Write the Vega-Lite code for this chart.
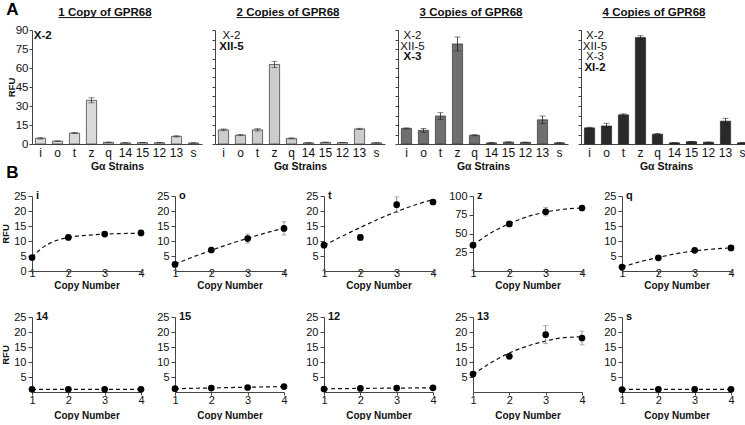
{
"$schema":"https://vega.github.io/schema/vega-lite/v6.json",
"background":"white",
"padding":{"left":0,"top":0,"right":0,"bottom":0},
"config":{"font":"Liberation Sans","view":{"stroke":null},
 "axis":{"domainColor":"#444","tickColor":"#444","labelColor":"#111","titleColor":"#111","titleFontWeight":"bold","titleFontSize":10,"labelFontSize":11,"grid":false,"labelFlush":false,"labelFont":"Liberation Sans","titleFont":"Liberation Sans"},
 "text":{"font":"Liberation Sans"}},
"datasets":{
"rfu":[
{"strain":"i","copies":1,"value":4.5,"err":0.6},{"strain":"i","copies":2,"value":11.2,"err":0.7},{"strain":"i","copies":3,"value":12.3,"err":0.4},{"strain":"i","copies":4,"value":12.7,"err":0.5},
{"strain":"o","copies":1,"value":2.2,"err":0.3},{"strain":"o","copies":2,"value":7.0,"err":0.4},{"strain":"o","copies":3,"value":10.8,"err":1.5},{"strain":"o","copies":4,"value":14.2,"err":2.2},
{"strain":"t","copies":1,"value":8.6,"err":0.4},{"strain":"t","copies":2,"value":11.2,"err":0.9},{"strain":"t","copies":3,"value":22.1,"err":2.6},{"strain":"t","copies":4,"value":23.0,"err":0.8},
{"strain":"z","copies":1,"value":34.5,"err":2.0},{"strain":"z","copies":2,"value":62.8,"err":2.5},{"strain":"z","copies":3,"value":79.0,"err":5.5},{"strain":"z","copies":4,"value":84.0,"err":1.5},
{"strain":"q","copies":1,"value":1.3,"err":0.2},{"strain":"q","copies":2,"value":4.4,"err":0.4},{"strain":"q","copies":3,"value":6.9,"err":0.4},{"strain":"q","copies":4,"value":7.7,"err":0.6},
{"strain":"14","copies":1,"value":0.9,"err":0.1},{"strain":"14","copies":2,"value":0.9,"err":0.1},{"strain":"14","copies":3,"value":0.9,"err":0.1},{"strain":"14","copies":4,"value":0.9,"err":0.1},
{"strain":"15","copies":1,"value":1.1,"err":0.1},{"strain":"15","copies":2,"value":1.3,"err":0.1},{"strain":"15","copies":3,"value":1.5,"err":0.1},{"strain":"15","copies":4,"value":1.8,"err":0.2},
{"strain":"12","copies":1,"value":1.0,"err":0.1},{"strain":"12","copies":2,"value":1.2,"err":0.1},{"strain":"12","copies":3,"value":1.3,"err":0.1},{"strain":"12","copies":4,"value":1.4,"err":0.1},
{"strain":"13","copies":1,"value":6.0,"err":0.5},{"strain":"13","copies":2,"value":11.9,"err":0.5},{"strain":"13","copies":3,"value":19.1,"err":3.0},{"strain":"13","copies":4,"value":18.0,"err":2.3},
{"strain":"s","copies":1,"value":0.8,"err":0.1},{"strain":"s","copies":2,"value":0.9,"err":0.1},{"strain":"s","copies":3,"value":0.9,"err":0.1},{"strain":"s","copies":4,"value":0.9,"err":0.1}
],
"fit":[
{"strain":"i","copies":1,"value":4.5},{"strain":"i","copies":1.25,"value":7.4},{"strain":"i","copies":1.5,"value":9.3},{"strain":"i","copies":2,"value":11.2},{"strain":"i","copies":2.5,"value":11.9},{"strain":"i","copies":3,"value":12.3},{"strain":"i","copies":3.5,"value":12.5},{"strain":"i","copies":4,"value":12.6},
{"strain":"o","copies":1,"value":2.3},{"strain":"o","copies":1.5,"value":4.7},{"strain":"o","copies":2,"value":6.9},{"strain":"o","copies":2.5,"value":9.0},{"strain":"o","copies":3,"value":10.9},{"strain":"o","copies":3.5,"value":12.7},{"strain":"o","copies":4,"value":14.3},
{"strain":"t","copies":1,"value":8.5},{"strain":"t","copies":1.5,"value":11.6},{"strain":"t","copies":2,"value":14.5},{"strain":"t","copies":2.5,"value":17.3},{"strain":"t","copies":3,"value":19.8},{"strain":"t","copies":3.5,"value":22.0},{"strain":"t","copies":4,"value":23.8},
{"strain":"z","copies":1,"value":34.5},{"strain":"z","copies":1.5,"value":51},{"strain":"z","copies":2,"value":63},{"strain":"z","copies":2.5,"value":72.5},{"strain":"z","copies":3,"value":78.5},{"strain":"z","copies":3.5,"value":82.3},{"strain":"z","copies":4,"value":84},
{"strain":"q","copies":1,"value":1.3},{"strain":"q","copies":1.5,"value":3.1},{"strain":"q","copies":2,"value":4.5},{"strain":"q","copies":2.5,"value":5.8},{"strain":"q","copies":3,"value":6.7},{"strain":"q","copies":3.5,"value":7.3},{"strain":"q","copies":4,"value":7.7},
{"strain":"14","copies":1,"value":0.9},{"strain":"14","copies":2,"value":0.9},{"strain":"14","copies":3,"value":0.9},{"strain":"14","copies":4,"value":0.9},
{"strain":"15","copies":1,"value":1.1},{"strain":"15","copies":2,"value":1.35},{"strain":"15","copies":3,"value":1.6},{"strain":"15","copies":4,"value":1.8},
{"strain":"12","copies":1,"value":1.05},{"strain":"12","copies":2,"value":1.2},{"strain":"12","copies":3,"value":1.3},{"strain":"12","copies":4,"value":1.4},
{"strain":"13","copies":1,"value":5.8},{"strain":"13","copies":1.5,"value":9.8},{"strain":"13","copies":2,"value":13.0},{"strain":"13","copies":2.5,"value":15.3},{"strain":"13","copies":3,"value":17.0},{"strain":"13","copies":3.5,"value":18.1},{"strain":"13","copies":4,"value":18.4},
{"strain":"s","copies":1,"value":0.9},{"strain":"s","copies":2,"value":0.9},{"strain":"s","copies":3,"value":0.9},{"strain":"s","copies":4,"value":0.9}
],
"tags":[
{"copies":1,"line":1,"site":"X-2","added":true},
{"copies":2,"line":1,"site":"X-2","added":false},{"copies":2,"line":2,"site":"XII-5","added":true},
{"copies":3,"line":1,"site":"X-2","added":false},{"copies":3,"line":2,"site":"XII-5","added":false},{"copies":3,"line":3,"site":"X-3","added":true},
{"copies":4,"line":1,"site":"X-2","added":false},{"copies":4,"line":2,"site":"XII-5","added":false},{"copies":4,"line":3,"site":"X-3","added":false},{"copies":4,"line":4,"site":"XI-2","added":true}
]
},
"spacing":9,"columns":1,"align":"none",
"concat":[
{"hconcat":[
 {"width":170,"height":114,"resolve":{"scale":{"y":"independent"}},
  "layer":[
   {"data":{"name":"rfu"},"transform":[{"filter":"datum.copies == 1"}],
    "encoding":{
     "x":{"field":"strain","type":"nominal","bandPosition":0.5,"scale":{"domain":["i","o","t","z","q","14","15","12","13","s"],"paddingInner":0.4,"paddingOuter":0.2},"axis":{"title":"Gα Strains","labelAngle":0,"ticks":false,"labelPadding":3,"labelFontSize":12,"titlePadding":3,"titleFontSize":10.5}},
     "y":{"field":"value","type":"quantitative","scale":{"domain":[0,90],"nice":false},"axis":{"title":"RFU","values":[0,15,30,45,60,75,90],"tickSize":3,"labelPadding":1,"titlePadding":-1,"titleFontSize":9.5,"labelFontSize":11.5}}},
    "layer":[
     {"mark":{"type":"bar","fill":"#d9d9d9","stroke":"#333","strokeWidth":0.7}},
     {"mark":{"type":"errorbar","ticks":{"size":6},"color":"#333","thickness":0.8},"encoding":{"yError":{"field":"err"}}},
     {"transform":[{"filter":"datum.strain == 'i'"}],"mark":{"type":"text","text":"A","fontSize":17,"fontWeight":"bold","dx":-28,"baseline":"middle","color":"#000"},"encoding":{"y":{"datum":106}}},
     {"transform":[{"filter":"datum.strain == 'i'"}],"mark":{"type":"text","text":"B","fontSize":17,"fontWeight":"bold","dx":-28,"baseline":"middle","color":"#000"},"encoding":{"y":{"datum":-22.5}}},
     {"transform":[{"filter":"datum.strain == 'q'"}],"mark":{"type":"text","text":"1 Copy of GPR68","fontSize":11.5,"fontWeight":"bold","color":"#111","baseline":"alphabetic","align":"center","dx":-3.5},"encoding":{"y":{"datum":101.2}}},
     {"transform":[{"filter":"datum.strain == 'q'"}],"mark":{"type":"rule","color":"#111","strokeWidth":1,"xOffset":-50.1,"x2Offset":43.1},"encoding":{"x2":{"field":"strain","bandPosition":0.5},"y":{"datum":99.8}}}
    ]},
   {"data":{"name":"tags"},"transform":[{"filter":"datum.copies == 1"}],
    "encoding":{"x":{"datum":"i","type":"nominal"},"y":{"field":"line","type":"quantitative","scale":{"domain":[0.44,11.12],"reverse":true,"nice":false,"zero":false},"axis":null},"text":{"field":"site"}},
    "layer":[
     {"transform":[{"filter":"!datum.added"}],"mark":{"type":"text","dx":2.3,"fontSize":11.5,"color":"#111","baseline":"middle"}},
     {"transform":[{"filter":"datum.added"}],"mark":{"type":"text","dx":2.3,"fontSize":11.5,"fontWeight":"bold","color":"#111","baseline":"middle"}}
    ]}
  ]},
 {"width":170,"height":114,"resolve":{"scale":{"y":"independent"}},
  "layer":[
   {"data":{"name":"rfu"},"transform":[{"filter":"datum.copies == 2"}],
    "encoding":{
     "x":{"field":"strain","type":"nominal","bandPosition":0.5,"scale":{"domain":["i","o","t","z","q","14","15","12","13","s"],"paddingInner":0.4,"paddingOuter":0.2},"axis":{"title":"Gα Strains","labelAngle":0,"ticks":false,"labelPadding":3,"labelFontSize":12,"titlePadding":3,"titleFontSize":10.5}},
     "y":{"field":"value","type":"quantitative","scale":{"domain":[0,90],"nice":false},"axis":{"title":null,"values":[0,7.5,15,22.5,30,37.5,45,52.5,60,67.5,75,82.5,90],"labels":false,"tickSize":3}}},
    "layer":[
     {"mark":{"type":"bar","fill":"#cccccc","stroke":"#333","strokeWidth":0.7}},
     {"mark":{"type":"errorbar","ticks":{"size":6},"color":"#333","thickness":0.8},"encoding":{"yError":{"field":"err"}}},
     {"transform":[{"filter":"datum.strain == 'q'"}],"mark":{"type":"text","text":"2 Copies of GPR68","fontSize":11.5,"fontWeight":"bold","color":"#111","baseline":"alphabetic","align":"center","dx":-3.5},"encoding":{"y":{"datum":101.2}}},
     {"transform":[{"filter":"datum.strain == 'q'"}],"mark":{"type":"rule","color":"#111","strokeWidth":1,"xOffset":-55,"x2Offset":48},"encoding":{"x2":{"field":"strain","bandPosition":0.5},"y":{"datum":99.8}}}
    ]},
   {"data":{"name":"tags"},"transform":[{"filter":"datum.copies == 2"}],
    "encoding":{"x":{"datum":"i","type":"nominal"},"y":{"field":"line","type":"quantitative","scale":{"domain":[0.44,11.12],"reverse":true,"nice":false,"zero":false},"axis":null},"text":{"field":"site"}},
    "layer":[
     {"transform":[{"filter":"!datum.added"}],"mark":{"type":"text","dx":8,"fontSize":11.5,"color":"#111","baseline":"middle"}},
     {"transform":[{"filter":"datum.added"}],"mark":{"type":"text","dx":8,"fontSize":11.5,"fontWeight":"bold","color":"#111","baseline":"middle"}}
    ]}
  ]},
 {"width":170,"height":114,"resolve":{"scale":{"y":"independent"}},
  "layer":[
   {"data":{"name":"rfu"},"transform":[{"filter":"datum.copies == 3"}],
    "encoding":{
     "x":{"field":"strain","type":"nominal","bandPosition":0.5,"scale":{"domain":["i","o","t","z","q","14","15","12","13","s"],"paddingInner":0.4,"paddingOuter":0.2},"axis":{"title":"Gα Strains","labelAngle":0,"ticks":false,"labelPadding":3,"labelFontSize":12,"titlePadding":3,"titleFontSize":10.5}},
     "y":{"field":"value","type":"quantitative","scale":{"domain":[0,90],"nice":false},"axis":{"title":null,"values":[0,7.5,15,22.5,30,37.5,45,52.5,60,67.5,75,82.5,90],"labels":false,"tickSize":3}}},
    "layer":[
     {"mark":{"type":"bar","fill":"#6f6f6f","stroke":"#333","strokeWidth":0.7}},
     {"mark":{"type":"errorbar","ticks":{"size":6},"color":"#222","thickness":0.8},"encoding":{"yError":{"field":"err"}}},
     {"transform":[{"filter":"datum.strain == 'q'"}],"mark":{"type":"text","text":"3 Copies of GPR68","fontSize":11.5,"fontWeight":"bold","color":"#111","baseline":"alphabetic","align":"center","dx":-3.5},"encoding":{"y":{"datum":101.2}}},
     {"transform":[{"filter":"datum.strain == 'q'"}],"mark":{"type":"rule","color":"#111","strokeWidth":1,"xOffset":-55,"x2Offset":48},"encoding":{"x2":{"field":"strain","bandPosition":0.5},"y":{"datum":99.8}}}
    ]},
   {"data":{"name":"tags"},"transform":[{"filter":"datum.copies == 3"}],
    "encoding":{"x":{"datum":"i","type":"nominal"},"y":{"field":"line","type":"quantitative","scale":{"domain":[0.44,11.12],"reverse":true,"nice":false,"zero":false},"axis":null},"text":{"field":"site"}},
    "layer":[
     {"transform":[{"filter":"!datum.added"}],"mark":{"type":"text","dx":6,"fontSize":11.5,"color":"#111","baseline":"middle"}},
     {"transform":[{"filter":"datum.added"}],"mark":{"type":"text","dx":6,"fontSize":11.5,"fontWeight":"bold","color":"#111","baseline":"middle"}}
    ]}
  ]},
 {"width":170,"height":114,"resolve":{"scale":{"y":"independent"}},
  "layer":[
   {"data":{"name":"rfu"},"transform":[{"filter":"datum.copies == 4"}],
    "encoding":{
     "x":{"field":"strain","type":"nominal","bandPosition":0.5,"scale":{"domain":["i","o","t","z","q","14","15","12","13","s"],"paddingInner":0.4,"paddingOuter":0.2},"axis":{"title":"Gα Strains","labelAngle":0,"ticks":false,"labelPadding":3,"labelFontSize":12,"titlePadding":3,"titleFontSize":10.5}},
     "y":{"field":"value","type":"quantitative","scale":{"domain":[0,90],"nice":false},"axis":{"title":null,"values":[0,7.5,15,22.5,30,37.5,45,52.5,60,67.5,75,82.5,90],"labels":false,"tickSize":3}}},
    "layer":[
     {"mark":{"type":"bar","fill":"#2a2a2a","stroke":"#222","strokeWidth":0.7}},
     {"mark":{"type":"errorbar","ticks":{"size":6},"color":"#222","thickness":0.8},"encoding":{"yError":{"field":"err"}}},
     {"transform":[{"filter":"datum.strain == 'q'"}],"mark":{"type":"text","text":"4 Copies of GPR68","fontSize":11.5,"fontWeight":"bold","color":"#111","baseline":"alphabetic","align":"center","dx":-3.5},"encoding":{"y":{"datum":101.2}}},
     {"transform":[{"filter":"datum.strain == 'q'"}],"mark":{"type":"rule","color":"#111","strokeWidth":1,"xOffset":-55,"x2Offset":48},"encoding":{"x2":{"field":"strain","bandPosition":0.5},"y":{"datum":99.8}}}
    ]},
   {"data":{"name":"tags"},"transform":[{"filter":"datum.copies == 4"}],
    "encoding":{"x":{"datum":"i","type":"nominal"},"y":{"field":"line","type":"quantitative","scale":{"domain":[0.44,11.12],"reverse":true,"nice":false,"zero":false},"axis":null},"text":{"field":"site"}},
    "layer":[
     {"transform":[{"filter":"!datum.added"}],"mark":{"type":"text","dx":5.5,"fontSize":11.5,"color":"#111","baseline":"middle"}},
     {"transform":[{"filter":"datum.added"}],"mark":{"type":"text","dx":5.5,"fontSize":11.5,"fontWeight":"bold","color":"#111","baseline":"middle"}}
    ]}
  ]}
],"spacing":9},
{"vconcat":[
 {"hconcat":[
  {"hconcat":[
   {"width":109,"height":75,
    "encoding":{"x":{"field":"copies","type":"quantitative","scale":{"domain":[1,4],"nice":false,"zero":false},"axis":{"title":"Copy Number","values":[1,2,3,4],"format":"d","tickSize":2,"labelPadding":-6,"titlePadding":2}},
     "y":{"field":"value","type":"quantitative","scale":{"domain":[0,25],"nice":false,"zero":false},"axis":{"title":"RFU","values":[0,5,10,15,20,25],"tickSize":4,"labelPadding":2,"titlePadding":3,"titleFontSize":9.5}}},
    "layer":[
     {"data":{"name":"fit"},"transform":[{"filter":"datum.strain == 'i'"}],"mark":{"type":"line","strokeDash":[4,3],"color":"#111","strokeWidth":1.2,"interpolate":"monotone"}},
     {"data":{"name":"rfu"},"transform":[{"filter":"datum.strain == 'i'"}],"mark":{"type":"errorbar","ticks":{"size":5},"color":"#777","thickness":0.8},"encoding":{"yError":{"field":"err"}}},
     {"data":{"name":"rfu"},"transform":[{"filter":"datum.strain == 'i'"}],"mark":{"type":"circle","color":"#000","size":45,"opacity":1}},
     {"data":{"name":"rfu"},"transform":[{"filter":"datum.strain == 'i' && datum.copies == 1"}],"mark":{"type":"text","align":"left","baseline":"alphabetic","dx":4,"dy":3,"fontWeight":"bold","fontSize":11,"color":"#111"},"encoding":{"x":{"datum":1},"y":{"datum":25},"text":{"field":"strain"}}}
    ]},
   {"width":109,"height":75,
    "encoding":{"x":{"field":"copies","type":"quantitative","scale":{"domain":[1,4],"nice":false,"zero":false},"axis":{"title":"Copy Number","values":[1,2,3,4],"format":"d","tickSize":2,"labelPadding":-6,"titlePadding":2}},
     "y":{"field":"value","type":"quantitative","scale":{"domain":[0,25],"nice":false,"zero":false},"axis":{"title":null,"values":[5,10,15,20,25],"tickSize":4,"labelPadding":2}}},
    "layer":[
     {"data":{"name":"fit"},"transform":[{"filter":"datum.strain == 'o'"}],"mark":{"type":"line","strokeDash":[4,3],"color":"#111","strokeWidth":1.2,"interpolate":"monotone"}},
     {"data":{"name":"rfu"},"transform":[{"filter":"datum.strain == 'o'"}],"mark":{"type":"errorbar","ticks":{"size":5},"color":"#777","thickness":0.8},"encoding":{"yError":{"field":"err"}}},
     {"data":{"name":"rfu"},"transform":[{"filter":"datum.strain == 'o'"}],"mark":{"type":"circle","color":"#000","size":45,"opacity":1}},
     {"data":{"name":"rfu"},"transform":[{"filter":"datum.strain == 'o' && datum.copies == 1"}],"mark":{"type":"text","align":"left","baseline":"alphabetic","dx":4,"dy":3,"fontWeight":"bold","fontSize":11,"color":"#111"},"encoding":{"x":{"datum":1},"y":{"datum":25},"text":{"field":"strain"}}}
    ]}
  ],"spacing":11},
  {"hconcat":[
  {"width":109,"height":75,
   "encoding":{"x":{"field":"copies","type":"quantitative","scale":{"domain":[1,4],"nice":false,"zero":false},"axis":{"title":"Copy Number","values":[1,2,3,4],"format":"d","tickSize":2,"labelPadding":-6,"titlePadding":2}},
    "y":{"field":"value","type":"quantitative","scale":{"domain":[0,25],"nice":false,"zero":false},"axis":{"title":null,"values":[5,10,15,20,25],"tickSize":4,"labelPadding":2}}},
   "layer":[
    {"data":{"name":"fit"},"transform":[{"filter":"datum.strain == 't'"}],"mark":{"type":"line","strokeDash":[4,3],"color":"#111","strokeWidth":1.2,"interpolate":"monotone"}},
    {"data":{"name":"rfu"},"transform":[{"filter":"datum.strain == 't'"}],"mark":{"type":"errorbar","ticks":{"size":5},"color":"#777","thickness":0.8},"encoding":{"yError":{"field":"err"}}},
    {"data":{"name":"rfu"},"transform":[{"filter":"datum.strain == 't'"}],"mark":{"type":"circle","color":"#000","size":45,"opacity":1}},
    {"data":{"name":"rfu"},"transform":[{"filter":"datum.strain == 't' && datum.copies == 1"}],"mark":{"type":"text","align":"left","baseline":"alphabetic","dx":4,"dy":3,"fontWeight":"bold","fontSize":11,"color":"#111"},"encoding":{"x":{"datum":1},"y":{"datum":25},"text":{"field":"strain"}}}
   ]},
  {"width":109,"height":75,
   "encoding":{"x":{"field":"copies","type":"quantitative","scale":{"domain":[1,4],"nice":false,"zero":false},"axis":{"title":"Copy Number","values":[1,2,3,4],"format":"d","tickSize":2,"labelPadding":-6,"titlePadding":2}},
    "y":{"field":"value","type":"quantitative","scale":{"domain":[0,100],"nice":false,"zero":false},"axis":{"title":null,"values":[25,50,75,100],"tickSize":4,"labelPadding":2}}},
   "layer":[
    {"data":{"name":"fit"},"transform":[{"filter":"datum.strain == 'z'"}],"mark":{"type":"line","strokeDash":[4,3],"color":"#111","strokeWidth":1.2,"interpolate":"monotone"}},
    {"data":{"name":"rfu"},"transform":[{"filter":"datum.strain == 'z'"}],"mark":{"type":"errorbar","ticks":{"size":5},"color":"#777","thickness":0.8},"encoding":{"yError":{"field":"err"}}},
    {"data":{"name":"rfu"},"transform":[{"filter":"datum.strain == 'z'"}],"mark":{"type":"circle","color":"#000","size":45,"opacity":1}},
    {"data":{"name":"rfu"},"transform":[{"filter":"datum.strain == 'z' && datum.copies == 1"}],"mark":{"type":"text","align":"left","baseline":"alphabetic","dx":4,"dy":3,"fontWeight":"bold","fontSize":11,"color":"#111"},"encoding":{"x":{"datum":1},"y":{"datum":100},"text":{"field":"strain"}}}
   ]}
  ],"spacing":11},
  {"width":109,"height":75,
   "encoding":{"x":{"field":"copies","type":"quantitative","scale":{"domain":[1,4],"nice":false,"zero":false},"axis":{"title":"Copy Number","values":[1,2,3,4],"format":"d","tickSize":2,"labelPadding":-6,"titlePadding":2}},
    "y":{"field":"value","type":"quantitative","scale":{"domain":[0,25],"nice":false,"zero":false},"axis":{"title":null,"values":[5,10,15,20,25],"tickSize":4,"labelPadding":2}}},
   "layer":[
    {"data":{"name":"fit"},"transform":[{"filter":"datum.strain == 'q'"}],"mark":{"type":"line","strokeDash":[4,3],"color":"#111","strokeWidth":1.2,"interpolate":"monotone"}},
    {"data":{"name":"rfu"},"transform":[{"filter":"datum.strain == 'q'"}],"mark":{"type":"errorbar","ticks":{"size":5},"color":"#777","thickness":0.8},"encoding":{"yError":{"field":"err"}}},
    {"data":{"name":"rfu"},"transform":[{"filter":"datum.strain == 'q'"}],"mark":{"type":"circle","color":"#000","size":45,"opacity":1}},
    {"data":{"name":"rfu"},"transform":[{"filter":"datum.strain == 'q' && datum.copies == 1"}],"mark":{"type":"text","align":"left","baseline":"alphabetic","dx":4,"dy":3,"fontWeight":"bold","fontSize":11,"color":"#111"},"encoding":{"x":{"datum":1},"y":{"datum":25},"text":{"field":"strain"}}}
   ]}
 ],"spacing":17},
 {"hconcat":[
  {"hconcat":[
   {"width":109,"height":75,
    "encoding":{"x":{"field":"copies","type":"quantitative","scale":{"domain":[1,4],"nice":false,"zero":false},"axis":{"title":"Copy Number","values":[1,2,3,4],"format":"d","tickSize":3,"labelPadding":-1,"titlePadding":5}},
     "y":{"field":"value","type":"quantitative","scale":{"domain":[0,25],"nice":false,"zero":false},"axis":{"title":"RFU","values":[5,10,15,20,25],"tickSize":4,"labelPadding":2,"titlePadding":3,"titleFontSize":9.5}}},
    "layer":[
     {"data":{"name":"fit"},"transform":[{"filter":"datum.strain == '14'"}],"mark":{"type":"line","strokeDash":[4,3],"color":"#111","strokeWidth":1.2,"interpolate":"monotone"}},
     {"data":{"name":"rfu"},"transform":[{"filter":"datum.strain == '14'"}],"mark":{"type":"errorbar","ticks":{"size":5},"color":"#777","thickness":0.8},"encoding":{"yError":{"field":"err"}}},
     {"data":{"name":"rfu"},"transform":[{"filter":"datum.strain == '14'"}],"mark":{"type":"circle","color":"#000","size":45,"opacity":1}},
     {"data":{"name":"rfu"},"transform":[{"filter":"datum.strain == '14' && datum.copies == 1"}],"mark":{"type":"text","align":"left","baseline":"alphabetic","dx":4,"dy":3,"fontWeight":"bold","fontSize":11,"color":"#111"},"encoding":{"x":{"datum":1},"y":{"datum":25},"text":{"field":"strain"}}}
    ]},
   {"width":109,"height":75,
    "encoding":{"x":{"field":"copies","type":"quantitative","scale":{"domain":[1,4],"nice":false,"zero":false},"axis":{"title":"Copy Number","values":[1,2,3,4],"format":"d","tickSize":3,"labelPadding":-1,"titlePadding":5}},
     "y":{"field":"value","type":"quantitative","scale":{"domain":[0,25],"nice":false,"zero":false},"axis":{"title":null,"values":[5,10,15,20,25],"tickSize":4,"labelPadding":2}}},
    "layer":[
     {"data":{"name":"fit"},"transform":[{"filter":"datum.strain == '15'"}],"mark":{"type":"line","strokeDash":[4,3],"color":"#111","strokeWidth":1.2,"interpolate":"monotone"}},
     {"data":{"name":"rfu"},"transform":[{"filter":"datum.strain == '15'"}],"mark":{"type":"errorbar","ticks":{"size":5},"color":"#777","thickness":0.8},"encoding":{"yError":{"field":"err"}}},
     {"data":{"name":"rfu"},"transform":[{"filter":"datum.strain == '15'"}],"mark":{"type":"circle","color":"#000","size":45,"opacity":1}},
     {"data":{"name":"rfu"},"transform":[{"filter":"datum.strain == '15' && datum.copies == 1"}],"mark":{"type":"text","align":"left","baseline":"alphabetic","dx":4,"dy":3,"fontWeight":"bold","fontSize":11,"color":"#111"},"encoding":{"x":{"datum":1},"y":{"datum":25},"text":{"field":"strain"}}}
    ]}
  ],"spacing":11},
  {"width":109,"height":75,
   "encoding":{"x":{"field":"copies","type":"quantitative","scale":{"domain":[1,4],"nice":false,"zero":false},"axis":{"title":"Copy Number","values":[1,2,3,4],"format":"d","tickSize":3,"labelPadding":-1,"titlePadding":5}},
    "y":{"field":"value","type":"quantitative","scale":{"domain":[0,25],"nice":false,"zero":false},"axis":{"title":null,"values":[5,10,15,20,25],"tickSize":4,"labelPadding":2}}},
   "layer":[
    {"data":{"name":"fit"},"transform":[{"filter":"datum.strain == '12'"}],"mark":{"type":"line","strokeDash":[4,3],"color":"#111","strokeWidth":1.2,"interpolate":"monotone"}},
    {"data":{"name":"rfu"},"transform":[{"filter":"datum.strain == '12'"}],"mark":{"type":"errorbar","ticks":{"size":5},"color":"#777","thickness":0.8},"encoding":{"yError":{"field":"err"}}},
    {"data":{"name":"rfu"},"transform":[{"filter":"datum.strain == '12'"}],"mark":{"type":"circle","color":"#000","size":45,"opacity":1}},
    {"data":{"name":"rfu"},"transform":[{"filter":"datum.strain == '12' && datum.copies == 1"}],"mark":{"type":"text","align":"left","baseline":"alphabetic","dx":4,"dy":3,"fontWeight":"bold","fontSize":11,"color":"#111"},"encoding":{"x":{"datum":1},"y":{"datum":25},"text":{"field":"strain"}}}
   ]},
  {"width":109,"height":75,
   "encoding":{"x":{"field":"copies","type":"quantitative","scale":{"domain":[1,4],"nice":false,"zero":false},"axis":{"title":"Copy Number","values":[1,2,3,4],"format":"d","tickSize":3,"labelPadding":-1,"titlePadding":5}},
    "y":{"field":"value","type":"quantitative","scale":{"domain":[0,25],"nice":false,"zero":false},"axis":{"title":null,"values":[5,10,15,20,25],"tickSize":4,"labelPadding":2}}},
   "layer":[
    {"data":{"name":"fit"},"transform":[{"filter":"datum.strain == '13'"}],"mark":{"type":"line","strokeDash":[4,3],"color":"#111","strokeWidth":1.2,"interpolate":"monotone"}},
    {"data":{"name":"rfu"},"transform":[{"filter":"datum.strain == '13'"}],"mark":{"type":"errorbar","ticks":{"size":5},"color":"#777","thickness":0.8},"encoding":{"yError":{"field":"err"}}},
    {"data":{"name":"rfu"},"transform":[{"filter":"datum.strain == '13'"}],"mark":{"type":"circle","color":"#000","size":45,"opacity":1}},
    {"data":{"name":"rfu"},"transform":[{"filter":"datum.strain == '13' && datum.copies == 1"}],"mark":{"type":"text","align":"left","baseline":"alphabetic","dx":4,"dy":3,"fontWeight":"bold","fontSize":11,"color":"#111"},"encoding":{"x":{"datum":1},"y":{"datum":25},"text":{"field":"strain"}}}
   ]},
  {"width":109,"height":75,
   "encoding":{"x":{"field":"copies","type":"quantitative","scale":{"domain":[1,4],"nice":false,"zero":false},"axis":{"title":"Copy Number","values":[1,2,3,4],"format":"d","tickSize":3,"labelPadding":-1,"titlePadding":5}},
    "y":{"field":"value","type":"quantitative","scale":{"domain":[0,25],"nice":false,"zero":false},"axis":{"title":null,"values":[5,10,15,20,25],"tickSize":4,"labelPadding":2}}},
   "layer":[
    {"data":{"name":"fit"},"transform":[{"filter":"datum.strain == 's'"}],"mark":{"type":"line","strokeDash":[4,3],"color":"#111","strokeWidth":1.2,"interpolate":"monotone"}},
    {"data":{"name":"rfu"},"transform":[{"filter":"datum.strain == 's'"}],"mark":{"type":"errorbar","ticks":{"size":5},"color":"#777","thickness":0.8},"encoding":{"yError":{"field":"err"}}},
    {"data":{"name":"rfu"},"transform":[{"filter":"datum.strain == 's'"}],"mark":{"type":"circle","color":"#000","size":45,"opacity":1}},
    {"data":{"name":"rfu"},"transform":[{"filter":"datum.strain == 's' && datum.copies == 1"}],"mark":{"type":"text","align":"left","baseline":"alphabetic","dx":4,"dy":3,"fontWeight":"bold","fontSize":11,"color":"#111"},"encoding":{"x":{"datum":1},"y":{"datum":25},"text":{"field":"strain"}}}
   ]}
 ],"spacing":17}
],"spacing":21}
]
}
